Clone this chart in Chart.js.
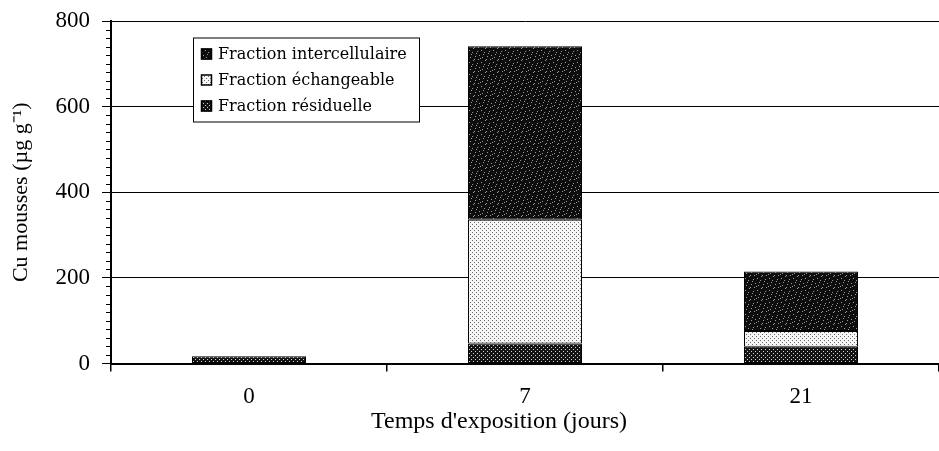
<!DOCTYPE html>
<html>
<head>
<meta charset="utf-8">
<script src="https://cdn.jsdelivr.net/npm/chart.js@4/dist/chart.umd.min.js"></script>
<style>
  html, body { margin: 0; padding: 0; background: #fff; }
  #wrap { width: 939px; height: 451px; position: relative; }
</style>
</head>
<body>
<div id="wrap"><canvas id="c" width="939" height="451"></canvas></div>
<script>
// Exposure time (days)
const categories = ['0', '7', '21'];
// Cu in mosses (µg g-1) per fraction
const residuelle = [17, 47, 39];
const echangeable = [0, 289, 37];
const intercellulaire = [0, 405, 139];
const yTicks = [0, 200, 400, 600, 800];

const labelResiduelle = 'Fraction résiduelle';
const labelEchangeable = 'Fraction échangeable';
const labelIntercellulaire = 'Fraction intercellulaire';

// Small stipple textures for the fills
function makePattern(bg, fg, size, dots) {
  const c = document.createElement('canvas');
  c.width = size; c.height = size;
  const g = c.getContext('2d');
  g.fillStyle = bg; g.fillRect(0, 0, size, size);
  g.fillStyle = fg;
  dots.forEach(([x, y]) => g.fillRect(x, y, 1, 1));
  return g.createPattern(c, 'repeat');
}
const patIntercell = makePattern('#0e0e0e', '#9a9a9a', 12,
  [[1,2],[5,0],[9,3],[3,6],[7,8],[11,7],[0,10],[6,11],[10,11],[4,4],[8,5],[2,9]]);
const patEchange = makePattern('#f6f6f6', '#6a6a6a', 4, [[0,0],[2,2]]);
const patResid = makePattern('#141414', '#d0d0d0', 4, [[1,1],[3,3]]);

const serif = "'Liberation Serif', 'Times New Roman', serif";

// Minor ticks on the value axis, every 20 units
const minorTicks = {
  id: 'minorTicks',
  afterDraw(chart) {
    const y = chart.scales.y;
    const ctx = chart.ctx;
    const x0 = chart.chartArea.left;
    ctx.save();
    ctx.strokeStyle = '#000';
    ctx.lineWidth = 1;
    for (let v = 0; v <= 800; v += 20) {
      if (v % 200 === 0) continue;
      const py = Math.round(y.getPixelForValue(v)) + 0.5;
      ctx.beginPath();
      ctx.moveTo(x0 - 5, py);
      ctx.lineTo(x0, py);
      ctx.stroke();
    }
    ctx.restore();
  }
};

// Boxed legend inside the plot area, plus the x-axis title
const boxedLegend = {
  id: 'boxedLegend',
  afterDraw(chart) {
    const ctx = chart.ctx;
    const a = chart.chartArea;
    const bx = a.left + 82, by = a.top + 16.5, bw = 226, bh = 84;
    ctx.save();
    ctx.fillStyle = '#fff';
    ctx.fillRect(bx, by, bw, bh);
    ctx.strokeStyle = '#000';
    ctx.lineWidth = 1;
    ctx.strokeRect(bx + 0.5, by + 0.5, bw, bh);
    const items = chart.data.datasets.slice().reverse();
    ctx.font = "16px 'DejaVu Serif', serif";
    ctx.textBaseline = 'middle';
    ctx.textAlign = 'left';
    items.forEach((ds, i) => {
      const cy = by + 17 + i * 26;
      ctx.fillStyle = ds.backgroundColor;
      ctx.fillRect(bx + 8, cy - 6, 11, 11);
      ctx.strokeStyle = '#000';
      ctx.lineWidth = 1.5;
      ctx.strokeRect(bx + 8.5, cy - 5.5, 10, 10);
      ctx.fillStyle = '#000';
      ctx.fillText(ds.label, bx + 25, cy);
    });
    // x-axis title
    ctx.font = '24px ' + serif;
    ctx.textAlign = 'center';
    ctx.fillText("Temps d'exposition (jours)", (a.left + a.right) / 2 - 26, 422);
    ctx.restore();
  }
};

new Chart(document.getElementById('c'), {
  type: 'bar',
  data: {
    labels: categories,
    datasets: [
      { label: labelResiduelle, data: residuelle, backgroundColor: patResid },
      { label: labelEchangeable, data: echangeable, backgroundColor: patEchange },
      { label: labelIntercellulaire, data: intercellulaire, backgroundColor: patIntercell }
    ].map(d => Object.assign(d, {
      borderColor: '#000', borderWidth: 1, borderSkipped: false,
      categoryPercentage: 1.0, barPercentage: 0.413
    }))
  },
  options: {
    responsive: false,
    animation: false,
    events: [],
    layout: { padding: { top: 21, right: 0, bottom: 0, left: 0 } },
    plugins: { legend: { display: false }, tooltip: { enabled: false } },
    scales: {
      x: {
        stacked: true,
        afterFit(s) { s.height = 87.5; s.paddingLeft = 0; s.paddingRight = 0; },
        grid: {
          offset: true, drawOnChartArea: false, tickLength: 8,
          color: '#000', lineWidth: 1.5
        },
        border: { color: '#000', width: 2 },
        ticks: {
          color: '#000', padding: 12,
          font: { family: serif, size: 23 }
        }
      },
      y: {
        stacked: true,
        min: 0, max: 800,
        afterFit(s) { s.width = 111; s.paddingTop = 0; s.paddingBottom = 0; },
        afterBuildTicks(s) { s.ticks = yTicks.map(v => ({ value: v })); },
        grid: {
          color: ctx => (ctx.tick && ctx.tick.value > 0 ? '#000' : 'rgba(0,0,0,0)'),
          tickColor: '#000', lineWidth: 1, tickLength: 9
        },
        border: { color: '#000', width: 2 },
        ticks: {
          color: '#000', padding: 12,
          font: { family: serif, size: 23 }
        },
        title: {
          display: true, text: 'Cu mousses (µg g⁻¹)', color: '#000',
          font: { family: serif, size: 22 }, padding: { top: 8, bottom: 0 }
        }
      }
    }
  },
  plugins: [minorTicks, boxedLegend]
});
</script>
</body>
</html>
